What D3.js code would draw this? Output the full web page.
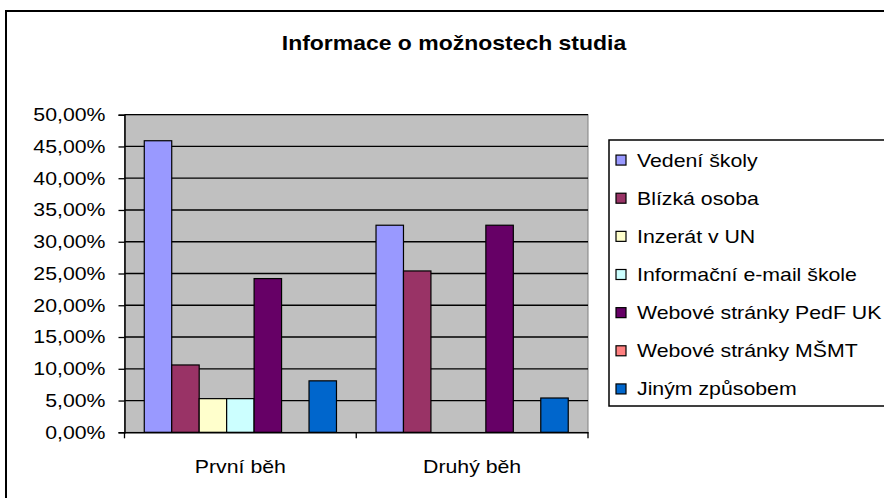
<!DOCTYPE html>
<html>
<head>
<meta charset="utf-8">
<script src="https://cdn.jsdelivr.net/npm/d3@7"></script>
<style>
  body {margin: 0; background: #fff;}
  text {font-family: 'Liberation Sans', Arial, sans-serif; fill: #000;}
</style>
</head>
<body>
<svg id="chart"></svg>
<script>
const categories = ['První běh', 'Druhý běh'];
const seriesNames = [
  'Vedení školy',
  'Blízká osoba',
  'Inzerát v UN',
  'Informační e-mail škole',
  'Webové stránky PedF UK',
  'Webové stránky MŠMT',
  'Jiným způsobem',
];
const prvniBeh = [0.459, 0.106, 0.053, 0.053, 0.242, 0, 0.081];
const druhyBeh = [0.326, 0.254, 0, 0, 0.326, 0, 0.054];
const yTicks = [0, 0.05, 0.1, 0.15, 0.2, 0.25, 0.3, 0.35, 0.4, 0.45, 0.5];
const seriesColors = ['#9999ff', '#993366', '#ffffcc', '#ccffff', '#660066', '#ff8080', '#0066cc'];

const width = 884;
const height = 498;
const plotLeft = 124.5;
const plotRight = 588;
const plotTop = 114.7;
const plotBottom = 432.3;
const stretchX = 1.15;

// the original picture is a bit wider than tall, so widen the glyphs too
const widen = (sel, k) => sel.each(function() {
  const len = this.getComputedTextLength();
  d3.select(this)
      .attr('textLength', len * k)
      .attr('lengthAdjust', 'spacingAndGlyphs');
});

const locale = d3.formatLocale({decimal: ',', thousands: ' ', grouping: [3], currency: ['', '']});
const fmt = locale.format('.2%');

const svg = d3.select('#chart')
    .attr('width', width)
    .attr('height', height)
    .attr('viewBox', [0, 0, width, height]);

// chart frame (runs off the picture on the right and bottom)
svg.append('rect')
    .attr('x', 6)
    .attr('y', 11)
    .attr('width', 900)
    .attr('height', 520)
    .attr('fill', '#fff')
    .attr('stroke', '#000')
    .attr('stroke-width', 2);

svg.append('text')
    .attr('x', 454)
    .attr('y', 50)
    .attr('text-anchor', 'middle')
    .attr('font-size', 20.5)
    .attr('font-weight', 'bold')
    .text('Informace o možnostech studia')
    .call(widen, 1.12);

const x0 = d3.scaleBand()
    .domain(categories)
    .range([plotLeft, plotRight]);
const x1 = d3.scaleBand()
    .domain(seriesNames)
    .range([0, x0.bandwidth()])
    .paddingOuter(0.72);
const y = d3.scaleLinear()
    .domain([0, 0.5])
    .range([plotBottom, plotTop]);
const color = d3.scaleOrdinal()
    .domain(seriesNames)
    .range(seriesColors);

svg.append('rect')
    .attr('x', plotLeft)
    .attr('y', plotTop)
    .attr('width', plotRight - plotLeft)
    .attr('height', plotBottom - plotTop)
    .attr('fill', '#c0c0c0')
    .attr('stroke', '#808080')
    .attr('stroke-width', 1);

svg.append('g')
    .selectAll('line')
    .data(yTicks.filter((d) => d > 0))
    .join('line')
    .attr('x1', plotLeft)
    .attr('x2', plotRight)
    .attr('y1', (d) => y(d))
    .attr('y2', (d) => y(d))
    .attr('stroke', '#000')
    .attr('stroke-width', 1.3);

const runs = [prvniBeh, druhyBeh];
svg.append('g')
    .selectAll('g')
    .data(categories)
    .join('g')
    .attr('transform', (d) => `translate(${x0(d)},0)`)
    .selectAll('rect')
    .data((d, i) => seriesNames.map((s, j) => ({name: s, value: runs[i][j]})).filter((v) => v.value > 0))
    .join('rect')
    .attr('x', (d) => x1(d.name))
    .attr('y', (d) => y(d.value))
    .attr('width', x1.bandwidth())
    .attr('height', (d) => y(0) - y(d.value))
    .attr('fill', (d) => color(d.name))
    .attr('stroke', '#000')
    .attr('stroke-width', 1.2);

const yAxis = d3.axisLeft(y)
    .tickValues(yTicks)
    .tickFormat(fmt)
    .tickSize(6)
    .tickPadding(13);
const gy = svg.append('g')
    .attr('transform', `translate(${plotLeft},0)`)
    .call(yAxis);
gy.select('.domain').attr('stroke-width', 1.5);
gy.selectAll('.tick line').attr('stroke-width', 1.3);
gy.selectAll('text')
    .attr('font-size', 18.5)
    .attr('font-family', null)
    .call(widen, stretchX);

const xAxis = d3.axisBottom(x0)
    .tickSize(0)
    .tickPadding(28);
const gx = svg.append('g')
    .attr('transform', `translate(0,${plotBottom})`)
    .call(xAxis);
gx.select('.domain').attr('stroke-width', 1.5);
gx.selectAll('text')
    .attr('font-size', 18.5)
    .attr('font-family', null)
    .call(widen, stretchX);
// boundary ticks between the categories
gx.selectAll('line.edge')
    .data([x0.range()[0], ...categories.map((c) => x0(c) + x0.bandwidth())])
    .join('line')
    .attr('class', 'edge')
    .attr('x1', (d) => d)
    .attr('x2', (d) => d)
    .attr('y1', 0)
    .attr('y2', 6)
    .attr('stroke', '#000')
    .attr('stroke-width', 1.3);

// legend
const legendY = d3.scaleBand()
    .domain(seriesNames)
    .range([141, 408]);
svg.append('rect')
    .attr('x', 609)
    .attr('y', 140)
    .attr('width', 300)
    .attr('height', 266)
    .attr('fill', '#fff')
    .attr('stroke', '#000')
    .attr('stroke-width', 1.5);
const gLegend = svg.append('g')
    .selectAll('g')
    .data(seriesNames)
    .join('g')
    .attr('transform', (d) => `translate(0,${legendY(d) + legendY.bandwidth() / 2})`);
gLegend.append('rect')
    .attr('x', 616)
    .attr('y', -5)
    .attr('width', 10)
    .attr('height', 10)
    .attr('fill', (d) => color(d))
    .attr('stroke', '#000')
    .attr('stroke-width', 1.2);
gLegend.append('text')
    .attr('x', 637)
    .attr('dy', '0.35em')
    .attr('font-size', 18.5)
    .text((d) => d)
    .call(widen, stretchX);
</script>
</body>
</html>
